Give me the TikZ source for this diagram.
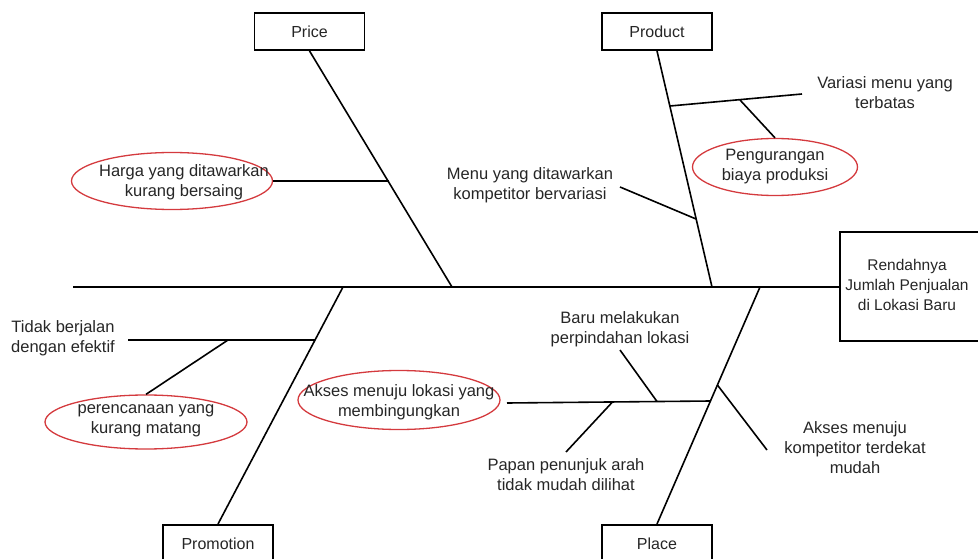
\documentclass[tikz,border=0pt]{standalone}
\usepackage{fontspec}
\setmainfont{Liberation Sans}
\usetikzlibrary{shapes.geometric}
\definecolor{ered}{RGB}{212,58,62}
\begin{document}
\begin{tikzpicture}[x=1pt,y=-1pt,
  bone/.style={line width=1.6pt, black},
  catbox/.style={draw, line width=1.8pt, minimum width=110pt, minimum height=37pt, inner sep=0pt, font=\fontsize{16}{20}\selectfont, text=black!85},
  txt/.style={align=center, font=\fontsize{16.5}{20}\selectfont, inner sep=0pt, text=black!85},
  oval/.style={ellipse, draw=ered, line width=1.3pt, inner sep=0pt}]
\useasboundingbox (0,0) rectangle (978,559);
\clip (0,0) rectangle (978,559);

% category boxes
\node[catbox] (price) at (309.5,31.5) {Price};
\node[catbox] (product) at (657,31.5) {Product};
\node[catbox, minimum height=38pt, anchor=north] (promo) at (218,524) {Promotion};
\node[catbox, minimum height=38pt, anchor=north] (place) at (657,524) {Place};

% effect box
\node[draw, line width=1.8pt, minimum width=150pt, minimum height=109pt, inner sep=0pt] (effect) at (915,286.5) {};
\node[txt, font=\fontsize{15.5}{20}\selectfont] (efftxt) at (907,285) {Rendahnya\\Jumlah Penjualan\\di Lokasi Baru};

% spine
\coordinate (tail) at (73,287);
\coordinate (priceJ) at (452,287);
\coordinate (prodJ) at (712,287);
\coordinate (promoJ) at (343,287);
\coordinate (placeJ) at (760,287);
\draw[bone] (tail) -- (effect.west |- tail);

% main bones
\draw[bone] (price.south) -- (priceJ);
\draw[bone] (product.south) -- (prodJ);
\draw[bone] (promo.north) -- (promoJ);
\draw[bone] (place.north) -- (placeJ);

% --- Price
\node[oval, minimum width=201pt, minimum height=57pt] (harga) at (172,181) {};
\node[txt] (hargatxt) at (184,182) {Harga yang ditawarkan\\kurang bersaing};
\coordinate (h2) at (388.5,181);
\draw[bone] (harga.east) -- (h2);

% --- Product
\coordinate (v1) at (670,106);
\coordinate (v2) at (802,94);
\coordinate (v3) at (740,100);
\draw[bone] (v1) -- (v2);
\node[txt] (variasi) at (885,93) {Variasi menu yang\\terbatas};
\node[oval, minimum width=165pt, minimum height=57pt] (peng) at (775,167) {};
\node[txt] (pengtxt) at (775,167) {Pengurangan\\biaya produksi};
\draw[bone] (v3) -- (peng.north);
\node[txt] (menu) at (530,185) {Menu yang ditawarkan\\kompetitor bervariasi};
\coordinate (m1) at (620,187);
\coordinate (m2) at (696,219);
\draw[bone] (m1) -- (m2);

% --- Promotion
\node[txt] (tidak) at (63,338) {Tidak berjalan\\dengan efektif};
\coordinate (t1) at (128,340);
\coordinate (t2) at (315,340);
\coordinate (t3) at (228,340);
\draw[bone] (t1) -- (t2);
\node[oval, minimum width=202pt, minimum height=54pt] (peren) at (146,422) {};
\node[txt] (perentxt) at (146,421) {perencanaan yang\\kurang matang};
\draw[bone] (t3) -- (peren.north);

% --- Place
\node[oval, minimum width=202pt, minimum height=59pt] (akses) at (399,400) {};
\node[txt] (aksestxt) at (399,402) {Akses menuju lokasi yang\\membingungkan};
\coordinate (a1) at (507,403);
\coordinate (a2) at (710.5,401);
\draw[bone] (a1) -- (a2);
\node[txt] (baru) at (620,329) {Baru melakukan\\perpindahan lokasi};
\coordinate (b1) at (620,350);
\coordinate (b2) at (657,401.5);
\draw[bone] (b1) -- (b2);
\node[txt] (papan) at (566,475) {Papan penunjuk arah\\tidak mudah dilihat};
\coordinate (p1) at (612,402.5);
\coordinate (p2) at (566,452);
\draw[bone] (p1) -- (p2);
\node[txt] (komp) at (855,448) {Akses menuju\\kompetitor terdekat\\mudah};
\coordinate (k1) at (717.4,385);
\coordinate (k2) at (767,450);
\draw[bone] (k1) -- (k2);
\end{tikzpicture}
\end{document}
